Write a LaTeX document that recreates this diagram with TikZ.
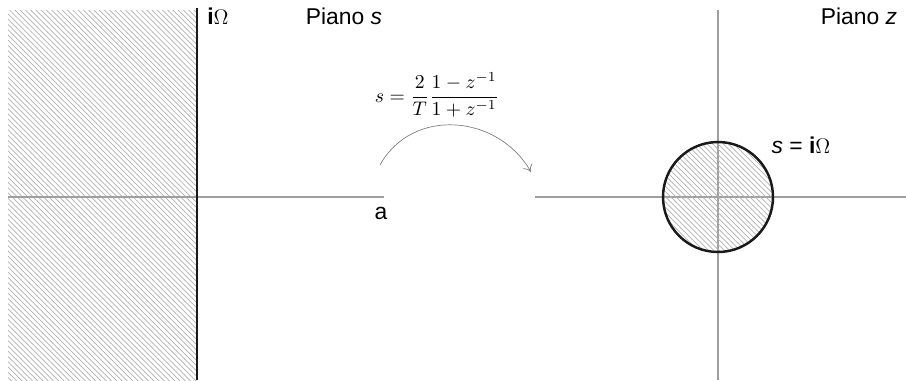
\documentclass[tikz,border=0pt]{standalone}
\usepackage{fontspec}
\setmainfont{Liberation Sans}
\usetikzlibrary{patterns,arrows.meta}
\tikzset{
  asse/.style={draw=gray!75, line width=0.6pt},
  tratteggio/.style={pattern=north west lines, pattern color=gray!60},
  etichetta/.style={font=\fontsize{13}{15}\selectfont, inner sep=0pt},
}
\begin{document}
\begin{tikzpicture}[x=0.02cm, y=-0.02cm]
    \useasboundingbox (0,0) rectangle (906,380);
    % Piano s: semipiano sinistro tratteggiato
    \fill[tratteggio] (8,10) rectangle (197,380);
    \draw[asse] (8,197) -- (384,197);
    \draw[line width=1.6pt, black!90] (197,8) -- (197,380);
    \node[etichetta] (asseimm) at (218,16) {\textbf{i}$\Omega$};
    \node[etichetta] (pianos) at (344,16) {Piano \textit{s}};
    \node[etichetta] (a) at (381,213) {a};
    % Trasformazione bilineare
    \node[inner sep=0pt] (formula) at (437,95)
        {\scalebox{1.12}{$\displaystyle s=\frac{2}{T}\frac{1-z^{-1}}{1+z^{-1}}$}};
    \coordinate (inizio) at (380,165);
    \coordinate (fine) at (531,172);
    \draw[gray, line width=0.4pt, -{To[length=4pt, width=6pt]}]
        (inizio) .. controls (412,107) and (498,114) .. (fine);
    % Piano z: cerchio unitario
    \draw[asse] (535,197) -- (906,197);
    \draw[asse] (718,10) -- (718,380);
    \draw[tratteggio] (718,197) circle[radius=1.1cm];
    \draw[line width=1.4pt, black!90] (718,197) circle[radius=1.1cm];
    \node[etichetta] (cerchio) at (801,145) {\textit{s} = \textbf{i}$\Omega$};
    \node[etichetta] (pianoz) at (859,16) {Piano \textit{z}};
\end{tikzpicture}
\end{document}
